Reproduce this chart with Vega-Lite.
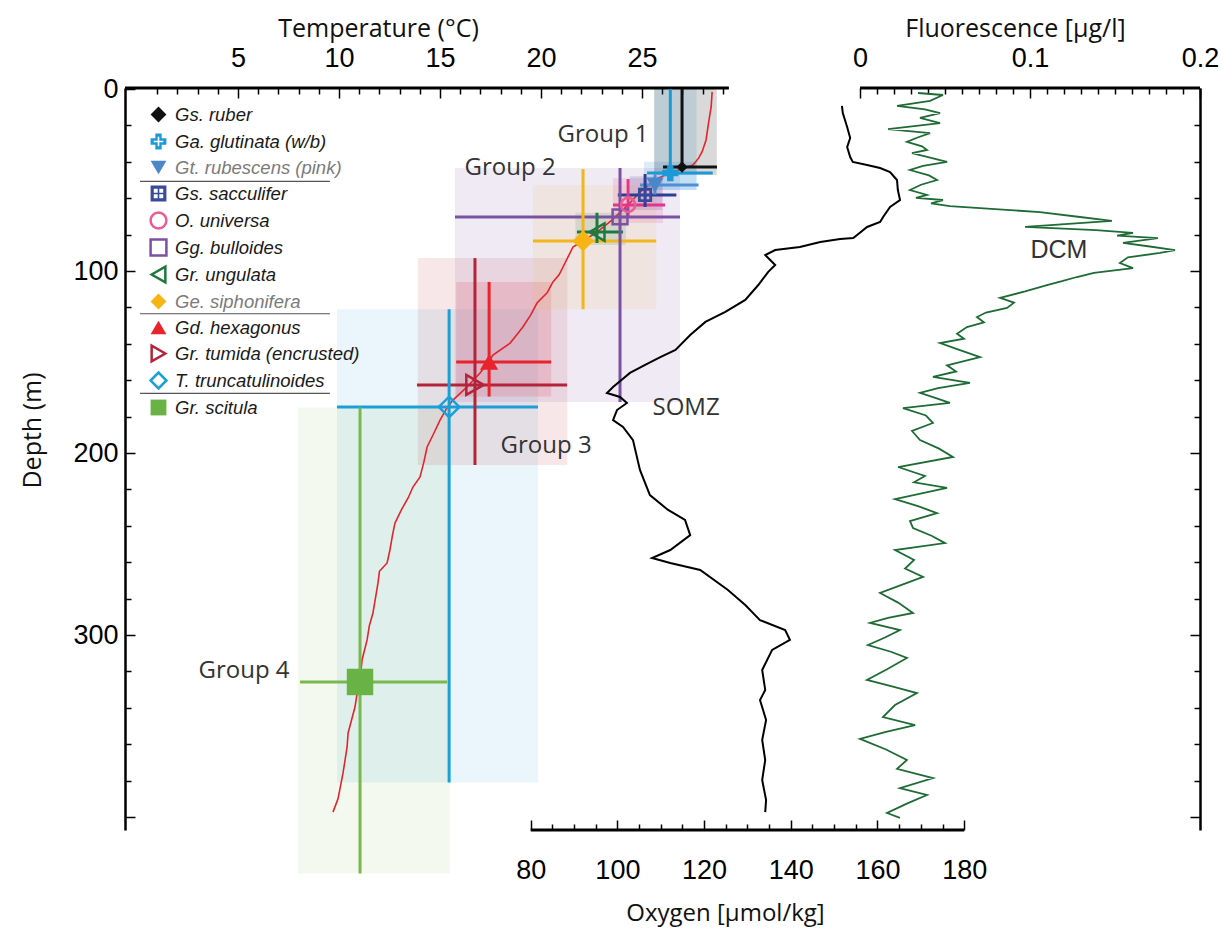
{
  "$schema": "https://vega.github.io/schema/vega-lite/v6.json",
  "width": 1075,
  "height": 742,
  "autosize": {"type": "none"},
  "padding": {"left": 125, "top": 88, "right": 23, "bottom": 98},
  "background": "#ffffff",
  "config": {
    "view": {"stroke": null},
    "axis": {
      "grid": false,
      "labelFont": "Liberation Sans",
      "labelFontSize": 27,
      "labelColor": "#000000",
      "labelFlush": false,
      "labelOverlap": false,
      "titleFont": "Open Sans",
      "titleFontSize": 24,
      "titleFontWeight": "normal",
      "titleColor": "#111111",
      "domainColor": "#000000",
      "domainWidth": 2.5,
      "tickColor": "#000000",
      "tickWidth": 1.5
    }
  },
  "datasets": {
    "forams": [
      {"species": "Gr. scitula", "t": 11.04, "d": 325.8, "tlo": 8.07, "thi": 15.35, "dlo": 175, "dhi": 431, "bt1": 7.97, "bt2": 15.5, "bd1": 175, "bd2": 431},
      {"species": "T. truncatulinoides", "t": 15.45, "d": 174.7, "tlo": 9.9, "thi": 19.85, "dlo": 121, "dhi": 381, "bt1": 9.9, "bt2": 19.85, "bd1": 121, "bd2": 381},
      {"species": "Gr. tumida (encrusted)", "t": 16.73, "d": 162.6, "tlo": 13.86, "thi": 21.29, "dlo": 92.9, "dhi": 206.6, "bt1": 13.9, "bt2": 21.3, "bd1": 92.9, "bd2": 206.6},
      {"species": "Gd. hexagonus", "t": 17.43, "d": 150, "tlo": 15.8, "thi": 20.5, "dlo": 106, "dhi": 169, "bt1": 15.8, "bt2": 20.5, "bd1": 106, "bd2": 169},
      {"species": "Gg. bulloides", "t": 23.91, "d": 70.3, "tlo": 15.74, "thi": 26.88, "dlo": 43.4, "dhi": 172, "bt1": 15.74, "bt2": 26.88, "bd1": 43.4, "bd2": 172},
      {"species": "Ge. siphonifera", "t": 22.08, "d": 83.5, "tlo": 19.6, "thi": 25.7, "dlo": 44, "dhi": 121, "bt1": 19.6, "bt2": 25.7, "bd1": 52.7, "bd2": 121},
      {"species": "Gr. ungulata", "t": 22.77, "d": 78.6, "tlo": 21.78, "thi": 24.06, "dlo": 68, "dhi": 84.6, "bt1": 21.7, "bt2": 24.2, "bd1": 68, "bd2": 85.7},
      {"species": "O. universa", "t": 24.31, "d": 63.7, "tlo": 23.56, "thi": 26.14, "dlo": 49.5, "dhi": 70.3, "bt1": 23.56, "bt2": 26.04, "bd1": 49, "bd2": 73.6},
      {"species": "Gs. sacculifer", "t": 25.15, "d": 58.2, "tlo": 23.8, "thi": 26.7, "dlo": 46.7, "dhi": 64.8, "bt1": 24.4, "bt2": 26.0, "bd1": 48, "bd2": 66.5},
      {"species": "Gt. rubescens (pink)", "t": 25.64, "d": 52.8, "tlo": 24.9, "thi": 27.8, "dlo": 47, "dhi": 58, "bt1": 25.1, "bt2": 27.7, "bd1": 40, "bd2": 55.5},
      {"species": "Ga. glutinata (w/b)", "t": 26.4, "d": 46.2, "tlo": 25.25, "thi": 28.5, "dlo": 0, "dhi": 50, "bt1": 25.6, "bt2": 27.7, "bd1": 0, "bd2": 55.5},
      {"species": "Gs. ruber", "t": 26.98, "d": 42.9, "tlo": 26.04, "thi": 28.71, "dlo": 0, "dhi": 44, "bt1": 25.6, "bt2": 28.7, "bd1": 0, "bd2": 47.3}
    ],
    "temperature": [
      {"d": 1.6, "t": 28.47}, {"d": 5, "t": 28.45}, {"d": 10, "t": 28.42}, {"d": 18, "t": 28.3},
      {"d": 28, "t": 28.17}, {"d": 34.6, "t": 27.97}, {"d": 38, "t": 27.8}, {"d": 41.8, "t": 27.52},
      {"d": 44, "t": 27.0}, {"d": 45.6, "t": 26.49}, {"d": 48, "t": 26.0}, {"d": 50, "t": 25.64},
      {"d": 56.6, "t": 24.9}, {"d": 63.7, "t": 24.31}, {"d": 72, "t": 23.51}, {"d": 78.6, "t": 22.77},
      {"d": 83.5, "t": 22.08}, {"d": 86.8, "t": 21.58}, {"d": 92, "t": 21.35}, {"d": 97.8, "t": 21.09},
      {"d": 102, "t": 20.9}, {"d": 106, "t": 20.59}, {"d": 112, "t": 20.3}, {"d": 117.6, "t": 19.8},
      {"d": 124, "t": 19.5}, {"d": 130.8, "t": 19.1}, {"d": 135, "t": 18.8}, {"d": 139.6, "t": 18.47},
      {"d": 146.2, "t": 17.62}, {"d": 150, "t": 17.4}, {"d": 156, "t": 16.98}, {"d": 163.7, "t": 16.34},
      {"d": 170.9, "t": 15.64}, {"d": 176, "t": 15.3}, {"d": 181.9, "t": 15.0}, {"d": 189, "t": 14.7},
      {"d": 196.7, "t": 14.36}, {"d": 205, "t": 14.2}, {"d": 213.2, "t": 14.01}, {"d": 218.7, "t": 13.66},
      {"d": 224.7, "t": 13.42}, {"d": 231, "t": 13.1}, {"d": 238.5, "t": 12.77}, {"d": 245, "t": 12.65},
      {"d": 253.3, "t": 12.52}, {"d": 260.4, "t": 12.38}, {"d": 265, "t": 12.0}, {"d": 271.4, "t": 11.93},
      {"d": 280, "t": 11.8}, {"d": 287.9, "t": 11.68}, {"d": 295, "t": 11.5}, {"d": 302.7, "t": 11.39},
      {"d": 313.7, "t": 11.14}, {"d": 324.7, "t": 11.04}, {"d": 332, "t": 10.9}, {"d": 339.6, "t": 10.79},
      {"d": 353.8, "t": 10.45}, {"d": 361.5, "t": 10.4}, {"d": 375.8, "t": 10.2}, {"d": 390, "t": 9.95},
      {"d": 397.3, "t": 9.7}
    ],
    "oxygen": [
      {"d": 9.3, "o": 151.8}, {"d": 13.2, "o": 152.0}, {"d": 20.9, "o": 153.0}, {"d": 26.9, "o": 153.7},
      {"d": 31.9, "o": 153.0}, {"d": 37.4, "o": 153.7}, {"d": 40.1, "o": 154.3}, {"d": 41.8, "o": 157.6},
      {"d": 43.4, "o": 160.6}, {"d": 45.6, "o": 162.9}, {"d": 50, "o": 164.5}, {"d": 55.5, "o": 164.7},
      {"d": 61, "o": 165.2}, {"d": 64.8, "o": 162.9}, {"d": 70.3, "o": 161.3}, {"d": 73.1, "o": 160.6},
      {"d": 75.8, "o": 157.6}, {"d": 80.2, "o": 155.3}, {"d": 81.9, "o": 154.4}, {"d": 82.4, "o": 151.4},
      {"d": 84.1, "o": 146.8}, {"d": 86.8, "o": 142.1}, {"d": 88.5, "o": 136.4}, {"d": 91.2, "o": 134.1},
      {"d": 96.7, "o": 136.4}, {"d": 100.5, "o": 134.8}, {"d": 107.7, "o": 132.5}, {"d": 115.9, "o": 129.5},
      {"d": 122.5, "o": 124.9}, {"d": 128, "o": 120.3}, {"d": 135.2, "o": 116.8}, {"d": 143.4, "o": 113.4},
      {"d": 147.3, "o": 109.9}, {"d": 151.6, "o": 106.4}, {"d": 156, "o": 102.9}, {"d": 163.7, "o": 99.0},
      {"d": 167, "o": 97.6}, {"d": 169.2, "o": 100.6}, {"d": 172.5, "o": 102.2}, {"d": 176.4, "o": 99.9},
      {"d": 181.9, "o": 99.0}, {"d": 185.7, "o": 101.3}, {"d": 192.9, "o": 103.6}, {"d": 209.3, "o": 105.2},
      {"d": 223.1, "o": 107.5}, {"d": 231.3, "o": 111.7}, {"d": 236.8, "o": 115.6}, {"d": 245.1, "o": 116.8},
      {"d": 253.3, "o": 112.2}, {"d": 257.7, "o": 108.0}, {"d": 260.4, "o": 112.2}, {"d": 264.3, "o": 119.1},
      {"d": 275.3, "o": 125.5}, {"d": 283.5, "o": 129.5}, {"d": 291.8, "o": 132.9}, {"d": 297.3, "o": 138.7},
      {"d": 302.7, "o": 139.8}, {"d": 308.2, "o": 135.7}, {"d": 319.2, "o": 133.4}, {"d": 330.2, "o": 134.1},
      {"d": 335.7, "o": 132.9}, {"d": 346.7, "o": 134.3}, {"d": 357.7, "o": 133.4}, {"d": 368.7, "o": 134.1},
      {"d": 379.7, "o": 133.4}, {"d": 390.7, "o": 134.3}, {"d": 397.3, "o": 134.1}
    ],
    "fluorescence": [
      {"d": 2.2, "f": 0.0341}, {"d": 3.3, "f": 0.0488}, {"d": 6.5, "f": 0.0412}, {"d": 9.3, "f": 0.0218},
      {"d": 11.2, "f": 0.0382}, {"d": 13.2, "f": 0.0471}, {"d": 15.9, "f": 0.0353}, {"d": 18.7, "f": 0.0471},
      {"d": 22, "f": 0.0165}, {"d": 24.2, "f": 0.0412}, {"d": 26.8, "f": 0.0335}, {"d": 29.1, "f": 0.0276},
      {"d": 31.5, "f": 0.0365}, {"d": 33.5, "f": 0.0394}, {"d": 35.2, "f": 0.0306}, {"d": 37.8, "f": 0.0418},
      {"d": 40.1, "f": 0.0512}, {"d": 42.3, "f": 0.0371}, {"d": 44.5, "f": 0.0294}, {"d": 47.5, "f": 0.0406},
      {"d": 50, "f": 0.0453}, {"d": 52.6, "f": 0.0359}, {"d": 55.5, "f": 0.0294}, {"d": 58.2, "f": 0.0394},
      {"d": 59.8, "f": 0.0329}, {"d": 61, "f": 0.0488}, {"d": 62.8, "f": 0.0418}, {"d": 64.3, "f": 0.0529},
      {"d": 65.5, "f": 0.0706}, {"d": 67.6, "f": 0.1059}, {"d": 70.2, "f": 0.1282}, {"d": 72.5, "f": 0.1482},
      {"d": 75.8, "f": 0.0971}, {"d": 77.5, "f": 0.1388}, {"d": 79.1, "f": 0.1606}, {"d": 80.6, "f": 0.1512},
      {"d": 81.9, "f": 0.1753}, {"d": 84.6, "f": 0.1547}, {"d": 86.4, "f": 0.1694}, {"d": 88.5, "f": 0.1853},
      {"d": 90.1, "f": 0.1765}, {"d": 92.5, "f": 0.1576}, {"d": 95.6, "f": 0.1529}, {"d": 98.4, "f": 0.1606},
      {"d": 101, "f": 0.1376}, {"d": 103.3, "f": 0.1276}, {"d": 105.6, "f": 0.1188}, {"d": 107.7, "f": 0.11},
      {"d": 111.2, "f": 0.0971}, {"d": 114.8, "f": 0.0824}, {"d": 117.4, "f": 0.0906}, {"d": 120.3, "f": 0.0865},
      {"d": 122.8, "f": 0.0741}, {"d": 125.3, "f": 0.0688}, {"d": 128.2, "f": 0.0729}, {"d": 130.8, "f": 0.0629},
      {"d": 134.5, "f": 0.0571}, {"d": 137.2, "f": 0.0612}, {"d": 139.6, "f": 0.0471}, {"d": 143.5, "f": 0.0588},
      {"d": 147.3, "f": 0.0706}, {"d": 151.8, "f": 0.0512}, {"d": 155.2, "f": 0.0565}, {"d": 158.2, "f": 0.0429},
      {"d": 161.5, "f": 0.0647}, {"d": 164.3, "f": 0.0459}, {"d": 167, "f": 0.0353}, {"d": 169.9, "f": 0.0447},
      {"d": 172.5, "f": 0.0529}, {"d": 175.3, "f": 0.0253}, {"d": 179.4, "f": 0.0388}, {"d": 183.5, "f": 0.0429},
      {"d": 187.9, "f": 0.0306}, {"d": 192.9, "f": 0.0353}, {"d": 197.6, "f": 0.0465}, {"d": 202.2, "f": 0.0547},
      {"d": 207.7, "f": 0.0224}, {"d": 212.6, "f": 0.0382}, {"d": 216.1, "f": 0.0318}, {"d": 219.2, "f": 0.0512},
      {"d": 225.3, "f": 0.0206}, {"d": 229.2, "f": 0.0341}, {"d": 233, "f": 0.0453}, {"d": 237.4, "f": 0.0294},
      {"d": 241.2, "f": 0.0312}, {"d": 245.6, "f": 0.0424}, {"d": 249.5, "f": 0.05}, {"d": 253.3, "f": 0.0206},
      {"d": 258.8, "f": 0.0318}, {"d": 263.5, "f": 0.0265}, {"d": 268.1, "f": 0.0371}, {"d": 272.6, "f": 0.0241},
      {"d": 276.9, "f": 0.0118}, {"d": 282.2, "f": 0.0224}, {"d": 287.9, "f": 0.0312}, {"d": 290.6, "f": 0.0165},
      {"d": 293.4, "f": 0.0059}, {"d": 297.3, "f": 0.0235}, {"d": 301.4, "f": 0.0147}, {"d": 305.5, "f": 0.0047},
      {"d": 309.2, "f": 0.0182}, {"d": 312.6, "f": 0.0276}, {"d": 318.8, "f": 0.0159}, {"d": 324.7, "f": 0.0041},
      {"d": 328.3, "f": 0.0194}, {"d": 331.9, "f": 0.0335}, {"d": 338.5, "f": 0.0206}, {"d": 345.1, "f": 0.0135},
      {"d": 349.5, "f": 0.0324}, {"d": 353.4, "f": 0.0147}, {"d": 357.1, "f": 0.0}, {"d": 362.9, "f": 0.0153},
      {"d": 368.7, "f": 0.0276}, {"d": 373.5, "f": 0.0218}, {"d": 378.6, "f": 0.0429}, {"d": 384.1, "f": 0.0235},
      {"d": 387.9, "f": 0.0394}, {"d": 392.4, "f": 0.0282}, {"d": 397.8, "f": 0.0159}, {"d": 400.5, "f": 0.0235}
    ],
    "notes": [
      {"label": "Group 1", "t": 23.07, "d": 25.3},
      {"label": "Group 2", "t": 18.47, "d": 43.4},
      {"label": "Group 3", "t": 20.25, "d": 196},
      {"label": "Group 4", "t": 5.3, "d": 319.8},
      {"label": "SOMZ", "t": 27.18, "d": 175.3}
    ],
    "separators": [{"d": 50.7}, {"d": 123.5}, {"d": 167.2}]
  },
  "layer": [
    {
      "resolve": {"axis": {"x": "independent", "y": "independent"}},
      "layer": [
        {
          "data": {"name": "forams"},
          "mark": {"type": "rect"},
          "encoding": {
            "x": {
              "field": "bt1", "type": "quantitative",
              "scale": {"domain": [-0.594, 52.62], "nice": false, "zero": false},
              "axis": {
                "orient": "top",
                "title": "Temperature (°C)",
                "titleX": 253, "titleY": -60, "titleAlign": "center", "titleBaseline": "middle", "titleAngle": 0,
                "titleFontSize": 25,
                "domain": false,
                "values": [5, 10, 15, 20, 25],
                "tickSize": -10,
                "labelPadding": 26
              }
            },
            "x2": {"field": "bt2"},
            "y": {
              "field": "bd1", "type": "quantitative",
              "scale": {"domain": [-0.55, 407.14], "nice": false, "zero": false, "reverse": true},
              "axis": {
                "orient": "left",
                "title": "Depth (m)",
                "titleX": -93, "titleY": 342, "titleAlign": "center", "titleBaseline": "middle", "titleAngle": -90,
                "titleFontSize": 25,
                "values": [0, 100, 200, 300, 400],
                "labelExpr": "datum.value < 400 ? datum.label : ''",
                "tickSize": -10,
                "labelPadding": 17
              }
            },
            "y2": {"field": "bd2"},
            "color": {
              "field": "species", "type": "nominal", "legend": null,
              "scale": {
                "domain": ["Gr. scitula", "T. truncatulinoides", "Gr. tumida (encrusted)", "Gd. hexagonus", "Ge. siphonifera", "Gr. ungulata", "Gg. bulloides", "O. universa", "Gs. sacculifer", "Gt. rubescens (pink)", "Ga. glutinata (w/b)", "Gs. ruber"],
                "range": ["#78b84e", "#1aa0d7", "#b3243a", "#e8232b", "#f2b51a", "#1e7a3c", "#7b52a3", "#e8338a", "#2c3f96", "#4f8fd6", "#1b9ad7", "#111111"]
              }
            },
            "opacity": {
              "field": "species", "type": "nominal", "legend": null,
              "scale": {
                "type": "ordinal",
                "domain": ["Gr. scitula", "T. truncatulinoides", "Gr. tumida (encrusted)", "Gd. hexagonus", "Ge. siphonifera", "Gr. ungulata", "Gg. bulloides", "O. universa", "Gs. sacculifer", "Gt. rubescens (pink)", "Ga. glutinata (w/b)", "Gs. ruber"],
                "range": [0.09, 0.09, 0.11, 0.15, 0.09, 0.13, 0.12, 0.15, 0.15, 0.18, 0.14, 0.16]
              }
            }
          }
        },
        {
          "data": {"values": [{}]},
          "mark": {"type": "rule", "color": "#000000", "strokeWidth": 3},
          "encoding": {
            "x": {
              "datum": -0.594,
              "axis": {
                "orient": "top", "title": null, "labels": false, "domain": false,
                "values": [1,2,3,4,6,7,8,9,11,12,13,14,16,17,18,19,21,22,23,24,26,27,28,29],
                "tickSize": -6
              }
            },
            "x2": {"datum": 29.3},
            "y": {
              "datum": -0.55,
              "axis": {
                "orient": "left", "title": null, "labels": false, "domain": false,
                "values": [20,40,60,80,120,140,160,180,220,240,260,280,320,340,360,380],
                "tickSize": -6
              }
            }
          }
        },
        {
          "data": {"name": "temperature"},
          "mark": {"type": "line", "color": "#e3242b", "strokeWidth": 1.6},
          "encoding": {
            "x": {"field": "t", "type": "quantitative", "axis": null},
            "y": {"field": "d", "type": "quantitative", "axis": null},
            "order": {"field": "d", "type": "quantitative"}
          }
        },
        {
          "data": {"name": "forams"},
          "mark": {"type": "rule", "strokeWidth": 3},
          "encoding": {
            "x": {"field": "tlo", "type": "quantitative", "axis": null},
            "x2": {"field": "thi"},
            "y": {"field": "d", "type": "quantitative", "axis": null},
            "color": {"field": "species", "type": "nominal", "legend": null}
          }
        },
        {
          "data": {"name": "forams"},
          "mark": {"type": "rule", "strokeWidth": 3},
          "encoding": {
            "x": {"field": "t", "type": "quantitative", "axis": null},
            "y": {"field": "dlo", "type": "quantitative", "axis": null},
            "y2": {"field": "dhi"},
            "color": {"field": "species", "type": "nominal", "legend": null}
          }
        },
        {
          "data": {"name": "forams"},
          "mark": {"type": "point", "strokeWidth": 2.5, "opacity": 1},
          "encoding": {
            "x": {"field": "t", "type": "quantitative", "axis": null},
            "y": {"field": "d", "type": "quantitative", "axis": null},
            "shape": {
              "field": "species", "type": "nominal",
              "scale": {
                "domain": ["Gs. ruber", "Ga. glutinata (w/b)", "Gt. rubescens (pink)", "Gs. sacculifer", "O. universa", "Gg. bulloides", "Gr. ungulata", "Ge. siphonifera", "Gd. hexagonus", "Gr. tumida (encrusted)", "T. truncatulinoides", "Gr. scitula"],
                "range": ["diamond", "M-0.4,-1H0.4V-0.4H1V0.4H0.4V1H-0.4V0.4H-1V-0.4H-0.4Z M-0.1,-0.6V-0.1H-0.6V0.1H-0.1V0.6H0.1V0.1H0.6V-0.1H0.1V-0.6Z", "triangle-down", "M-1,-1H1V1H-1Z M-0.6,-0.6V-0.1H-0.1V-0.6Z M0.1,-0.6V-0.1H0.6V-0.6Z M-0.6,0.1V0.6H-0.1V0.1Z M0.1,0.1V0.6H0.6V0.1Z", "circle", "square", "triangle-left", "diamond", "triangle-up", "triangle-right", "diamond", "square"]
              },
              "legend": {
                "title": null, "orient": "none", "legendX": 24, "legendY": 17, "padding": 0,
                "labelFont": "Liberation Sans", "labelFontSize": 18.5, "labelFontStyle": "italic",
                "labelColor": {"expr": "datum.value === 'Gt. rubescens (pink)' || datum.value === 'Ge. siphonifera' ? '#7b7b7b' : '#1a1a1a'"},
                "labelOffset": 7, "labelLimit": 320, "symbolSize": 250, "symbolStrokeWidth": 2.5, "rowPadding": 0
              }
            },
            "fill": {
              "field": "species", "type": "nominal",
              "scale": {
                "domain": ["Gs. ruber", "Ga. glutinata (w/b)", "Gt. rubescens (pink)", "Gs. sacculifer", "O. universa", "Gg. bulloides", "Gr. ungulata", "Ge. siphonifera", "Gd. hexagonus", "Gr. tumida (encrusted)", "T. truncatulinoides", "Gr. scitula"],
                "range": ["#111111", "#1b9ad7", "#4a86c8", "#3a4a9b", "transparent", "transparent", "transparent", "#f7b515", "#e8232b", "transparent", "transparent", "#68b246"]
              },
              "legend": {
                "title": null, "orient": "none", "legendX": 24, "legendY": 17, "padding": 0,
                "labelFont": "Liberation Sans", "labelFontSize": 18.5, "labelFontStyle": "italic",
                "labelColor": {"expr": "datum.value === 'Gt. rubescens (pink)' || datum.value === 'Ge. siphonifera' ? '#7b7b7b' : '#1a1a1a'"},
                "labelOffset": 7, "labelLimit": 320, "symbolSize": 250, "symbolStrokeWidth": 2.5, "rowPadding": 0
              }
            },
            "stroke": {
              "field": "species", "type": "nominal",
              "scale": {
                "domain": ["Gs. ruber", "Ga. glutinata (w/b)", "Gt. rubescens (pink)", "Gs. sacculifer", "O. universa", "Gg. bulloides", "Gr. ungulata", "Ge. siphonifera", "Gd. hexagonus", "Gr. tumida (encrusted)", "T. truncatulinoides", "Gr. scitula"],
                "range": ["transparent", "transparent", "transparent", "transparent", "#ec5b93", "#7b52a3", "#1e7a3c", "transparent", "transparent", "#b3243a", "#1aa0d7", "transparent"]
              },
              "legend": {
                "title": null, "orient": "none", "legendX": 24, "legendY": 17, "padding": 0,
                "labelFont": "Liberation Sans", "labelFontSize": 18.5, "labelFontStyle": "italic",
                "labelColor": {"expr": "datum.value === 'Gt. rubescens (pink)' || datum.value === 'Ge. siphonifera' ? '#7b7b7b' : '#1a1a1a'"},
                "labelOffset": 7, "labelLimit": 320, "symbolSize": 250, "symbolStrokeWidth": 2.5, "rowPadding": 0
              }
            },
            "size": {
              "field": "species", "type": "nominal", "legend": null,
              "scale": {
                "type": "ordinal",
                "domain": ["Gr. scitula", "T. truncatulinoides", "Gr. tumida (encrusted)", "Gd. hexagonus", "Ge. siphonifera", "Gr. ungulata", "Gg. bulloides", "O. universa", "Gs. sacculifer", "Gt. rubescens (pink)", "Ga. glutinata (w/b)", "Gs. ruber"],
                "range": [700, 420, 400, 330, 450, 300, 220, 200, 200, 300, 260, 130]
              }
            }
          }
        },
        {
          "data": {"name": "notes"},
          "mark": {"type": "text", "font": "Open Sans", "fontSize": 24, "color": "#333333"},
          "encoding": {
            "x": {"field": "t", "type": "quantitative", "axis": null},
            "y": {"field": "d", "type": "quantitative", "axis": null},
            "text": {"field": "label"}
          }
        },
        {
          "data": {"name": "separators"},
          "mark": {"type": "rule", "color": "#555555", "strokeWidth": 1.2},
          "encoding": {
            "x": {"datum": 0.15, "axis": null},
            "x2": {"datum": 9.55},
            "y": {"field": "d", "type": "quantitative", "axis": null}
          }
        }
      ]
    },
    {
      "resolve": {"axis": {"x": "independent", "y": "independent"}},
      "layer": [
        {
          "data": {"name": "oxygen"},
          "mark": {"type": "line", "color": "#000000", "strokeWidth": 2},
          "encoding": {
            "x": {
              "field": "o", "type": "quantitative",
              "scale": {"domain": [-13.59, 234.4], "nice": false, "zero": false},
              "axis": {
                "orient": "bottom",
                "title": "Oxygen [μmol/kg]",
                "titleX": 600, "titleY": 83, "titleAlign": "center", "titleBaseline": "middle",
                "domain": false,
                "values": [80, 100, 120, 140, 160, 180],
                "tickSize": -10,
                "labelPadding": 37
              }
            },
            "y": {
              "field": "d", "type": "quantitative",
              "scale": {"domain": [-0.55, 407.14], "nice": false, "zero": false, "reverse": true},
              "axis": {
                "orient": "right",
                "title": null,
                "labels": false,
                "values": [100, 200, 300, 400],
                "tickSize": -10
              }
            },
            "order": {"field": "d", "type": "quantitative"}
          }
        },
        {
          "data": {"values": [{}]},
          "mark": {"type": "rule", "color": "#000000", "strokeWidth": 3},
          "encoding": {
            "x": {
              "datum": 80,
              "axis": {
                "orient": "bottom", "title": null, "labels": false, "domain": false,
                "values": [85,90,95,105,110,115,125,130,135,145,150,155,165,170,175],
                "tickSize": -6
              }
            },
            "x2": {"datum": 180},
            "y": {
              "datum": 407.14,
              "axis": {
                "orient": "right", "title": null, "labels": false, "domain": false,
                "values": [20,40,60,80,120,140,160,180,220,240,260,280,320,340,360,380],
                "tickSize": -6
              }
            }
          }
        }
      ]
    },
    {
      "resolve": {"axis": {"x": "independent"}},
      "layer": [
        {
          "data": {"name": "fluorescence"},
          "mark": {"type": "line", "color": "#1e6b35", "strokeWidth": 1.8},
          "encoding": {
            "x": {
              "field": "f", "type": "quantitative",
              "scale": {"domain": [-0.43235, 0.2], "nice": false, "zero": false},
              "axis": {
                "orient": "top",
                "title": "Fluorescence [μg/l]",
                "titleX": 890, "titleY": -60, "titleAlign": "center", "titleBaseline": "middle",
                "titleFontSize": 25,
                "domain": false,
                "format": "~g",
                "values": [0, 0.1, 0.2],
                "tickSize": -10,
                "labelPadding": 26
              }
            },
            "y": {"field": "d", "type": "quantitative", "axis": null},
            "order": {"field": "d", "type": "quantitative"}
          }
        },
        {
          "data": {"values": [{}]},
          "mark": {"type": "rule", "color": "#000000", "strokeWidth": 3},
          "encoding": {
            "x": {
              "datum": 0,
              "axis": {
                "orient": "top", "title": null, "labels": false, "domain": false,
                "values": [0.01,0.02,0.03,0.04,0.05,0.06,0.07,0.08,0.09,0.11,0.12,0.13,0.14,0.15,0.16,0.17,0.18,0.19],
                "tickSize": -6
              }
            },
            "x2": {"datum": 0.2},
            "y": {"datum": -0.55, "axis": null}
          }
        },
        {
          "data": {"values": [{}]},
          "mark": {"type": "text", "font": "Liberation Sans", "fontSize": 25, "color": "#333333"},
          "encoding": {
            "x": {"datum": 0.117, "axis": null},
            "y": {"datum": 88.5, "axis": null},
            "text": {"value": "DCM"}
          }
        }
      ]
    }
  ],
  "resolve": {
    "scale": {"x": "independent"},
    "axis": {"x": "independent", "y": "independent"}
  }
}
